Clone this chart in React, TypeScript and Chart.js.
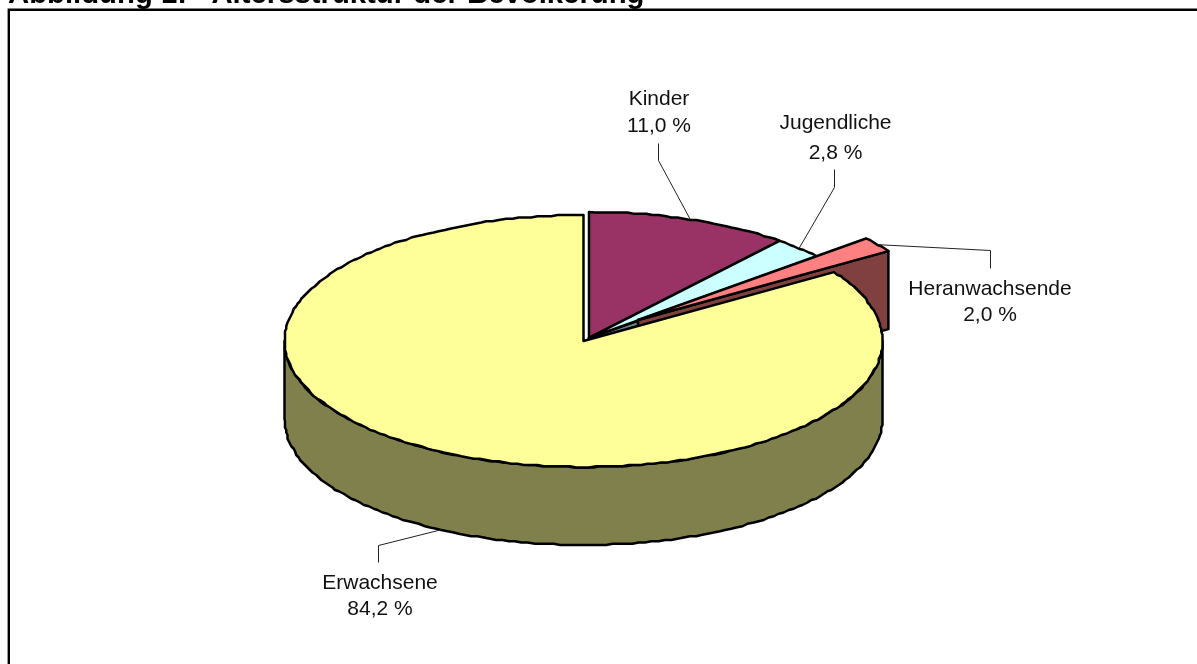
import React, { useEffect, useRef } from "react";
import { Chart, ArcElement, PieController, Title } from "chart.js";

const categories = ["Kinder", "Jugendliche", "Heranwachsende", "Erwachsene"];
const shares = [11.0, 2.8, 2.0, 84.2];
const shareLabels = ["11,0 %", "2,8 %", "2,0 %", "84,2 %"];
const topColors = ["#993366", "#CCFFFF", "#FF8080", "#FFFF99"];
const wallColors = ["#4D1A33", "#668080", "#804040", "#80804D"];
const titleText = "Abbildung 1:   Altersstruktur der Bevölkerung";

const FLATTEN = 126 / 299;
const DEPTH = 78;
const RADIUS = 299;
const RIM_GRID = 1.25;
const RIM_STEP = 0.022;
const sliceShift = [[5.5, -3], [5.5, -3], [54.5, -21], [0, 0]];
// label centre x, name baseline y, share baseline y, elbow x, elbow y, end y of leader
const labelSpots = [
  [659, 105, 132, 658, 160, 143],
  [835.5, 129, 159, 834, 187, 169],
  [990, 295, 321, 990, 250, 268],
  [380, 589, 615, 378, 545, 562],
];

const rimPath = (ctx: any, cx: number, cy: number, a0: number, a1: number, first: boolean) => {
  const n = Math.max(2, Math.ceil(Math.abs(a1 - a0) / RIM_STEP));
  for (let i = 0; i <= n; i++) {
    const a = a0 + ((a1 - a0) * i) / n;
    let x = cx + RADIUS * Math.cos(a);
    let y = cy + RADIUS * FLATTEN * Math.sin(a);
    if (i > 0 && i < n) {
      x = Math.round(x / RIM_GRID) * RIM_GRID;
      y = Math.round(y / RIM_GRID) * RIM_GRID;
    }
    if (i === 0 && first) ctx.moveTo(x, y);
    else ctx.lineTo(x, y);
  }
};

class Arc3D extends ArcElement {
  static id = "arc3d";
  draw(ctx: any) {
    const { x, y, startAngle, endAngle } = (this as any).getProps(["x", "y", "startAngle", "endAngle"]);
    const i = (this as any).$context.dataIndex;
    const cx = x + sliceShift[i][0];
    const cy = y + sliceShift[i][1];
    ctx.save();
    ctx.lineWidth = 2.5;
    ctx.strokeStyle = "#000";
    ctx.lineJoin = "round";
    // cut-plane wall at the clockwise end of the slice
    if (endAngle < 0) {
      const ex = cx + RADIUS * Math.cos(endAngle);
      const ey = cy + RADIUS * FLATTEN * Math.sin(endAngle);
      ctx.beginPath();
      ctx.moveTo(cx, cy);
      ctx.lineTo(ex, ey);
      ctx.lineTo(ex, ey + DEPTH);
      ctx.lineTo(cx, cy + DEPTH);
      ctx.closePath();
      ctx.fillStyle = wallColors[i];
      ctx.fill();
      ctx.stroke();
    }
    // outer wall on the visible front half
    const w0 = Math.max(startAngle, 0);
    const w1 = Math.min(endAngle, Math.PI);
    if (w1 > w0) {
      ctx.beginPath();
      rimPath(ctx, cx, cy, w0, w1, true);
      rimPath(ctx, cx, cy + DEPTH, w1, w0, false);
      ctx.closePath();
      ctx.fillStyle = wallColors[i];
      ctx.fill();
      ctx.stroke();
    }
    // top face
    ctx.beginPath();
    ctx.moveTo(cx, cy);
    rimPath(ctx, cx, cy, startAngle, endAngle, false);
    ctx.closePath();
    ctx.fillStyle = topColors[i];
    ctx.fill();
    ctx.stroke();
    ctx.restore();
  }
}

class Pie3D extends PieController {
  static id = "pie3d";
  static defaults = { ...(PieController as any).defaults, dataElementType: "arc3d" };
  static overrides = (PieController as any).overrides;
}

Chart.register(ArcElement, PieController, Arc3D as any, Pie3D as any, Title);

const framePlugin = {
  id: "frame",
  beforeDraw(chart: any) {
    const ctx = chart.ctx;
    ctx.save();
    ctx.strokeStyle = "#000";
    ctx.lineWidth = 2.4;
    ctx.beginPath();
    ctx.moveTo(8.8, 664);
    ctx.lineTo(8.8, 9.8);
    ctx.lineTo(1197, 9.8);
    ctx.stroke();
    ctx.restore();
  },
};

const labelPlugin = {
  id: "sliceLabels",
  afterDraw(chart: any) {
    const ctx = chart.ctx;
    const arcs = chart.getDatasetMeta(0).data;
    ctx.save();
    ctx.font = '21px "Liberation Sans"';
    ctx.textAlign = "center";
    ctx.textBaseline = "alphabetic";
    arcs.forEach((arc: any, i: number) => {
      const [lx, ly, ly2, ex, ey, endY] = labelSpots[i];
      const mid = (arc.startAngle + arc.endAngle) / 2;
      const ax = arc.x + sliceShift[i][0] + RADIUS * Math.cos(mid);
      const ay = arc.y + sliceShift[i][1] + RADIUS * FLATTEN * Math.sin(mid) + (Math.sin(mid) > 0 ? DEPTH : 0);
      ctx.strokeStyle = "#222";
      ctx.lineWidth = 1;
      ctx.beginPath();
      ctx.moveTo(ax, ay);
      ctx.lineTo(ex + 0.5, ey + 0.5);
      ctx.lineTo(ex + 0.5, endY + 0.5);
      ctx.stroke();
      ctx.fillStyle = "#111";
      ctx.fillText(categories[i], lx, ly);
      ctx.fillText(shareLabels[i], lx, ly2);
    });
    ctx.restore();
  },
};

export default function App() {
  const ref = useRef<HTMLCanvasElement>(null);
  useEffect(() => {
    document.body.style.margin = "0";
    const chart = new Chart(ref.current as any, {
      type: "pie3d" as any,
      data: {
        labels: categories,
        datasets: [{ data: shares, backgroundColor: topColors, radius: RADIUS, clip: false } as any],
      },
      options: {
        responsive: false,
        animation: false,
        layout: { padding: { left: 8, right: 38, top: 0, bottom: 0 } },
        plugins: {
          legend: { display: false },
          tooltip: { enabled: false },
          title: {
            display: true,
            text: titleText,
            align: "start",
            color: "#000",
            font: { family: '"Liberation Sans"', size: 29.3, weight: "bold", lineHeight: 1.2 },
            padding: { top: -23.1, bottom: 5.9 },
          },
        },
      } as any,
      plugins: [framePlugin, labelPlugin],
    });
    return () => chart.destroy();
  }, []);
  return <canvas ref={ref} width={1197} height={664} style={{ display: "block" }} />;
}
